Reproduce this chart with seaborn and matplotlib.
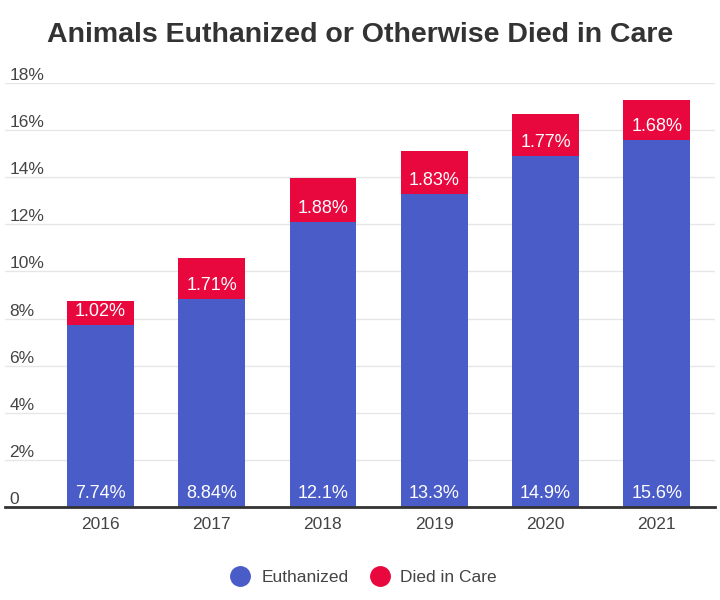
import matplotlib
matplotlib.use("Agg")
import matplotlib.pyplot as plt
from matplotlib.lines import Line2D
import numpy as np
import pandas as pd
import seaborn as sns

# dados
anos = ["2016", "2017", "2018", "2019", "2020", "2021"]
eutanasia = [7.74, 8.84, 12.1, 13.3, 14.9, 15.6]
morreu = [1.02, 1.71, 1.88, 1.83, 1.77, 1.68]
rotulos_eut = ["7.74%", "8.84%", "12.1%", "13.3%", "14.9%", "15.6%"]
rotulos_morreu = ["1.02%", "1.71%", "1.88%", "1.83%", "1.77%", "1.68%"]
y_ticks = [0, 2, 4, 6, 8, 10, 12, 14, 16, 18]

azul = "#4a5cc8"
vermelho = "#e8083e"
cinza = "#444444"

df = pd.DataFrame({"ano": anos, "eut": eutanasia, "morreu": morreu})
df["total"] = df["eut"] + df["morreu"]

sns.set_style("white")
plt.rcParams["font.family"] = ["Liberation Sans", "DejaVu Sans"]

fig = plt.figure(figsize=(7.2, 6), dpi=100)
ax = fig.add_axes([5 / 720, 1 - 507 / 600, 710 / 720, (507 - 83) / 600])

# barra total (vermelha) e por cima a parte azul
sns.barplot(data=df, x="ano", y="total", color=vermelho, width=0.6,
            saturation=1, linewidth=0, ax=ax, zorder=3)
sns.barplot(data=df, x="ano", y="eut", color=azul, width=0.6,
            saturation=1, linewidth=0, ax=ax, zorder=4)

for i, row in df.iterrows():
    ax.annotate(rotulos_eut[i], xy=(i, 0), xytext=(0, 3.5), textcoords="offset points",
                ha="center", va="bottom", color="white", fontsize=13, zorder=5)
    ax.annotate(rotulos_morreu[i], xy=(i, row["eut"]), xytext=(0, 3.5),
                textcoords="offset points", ha="center", va="bottom",
                color="white", fontsize=13, zorder=5)

ax.set_xlim(-95 / 111, 5 + 58 / 111)
ax.set_ylim(0, 18)
ax.set_yticks(y_ticks)
ax.set_yticklabels(["0" if t == 0 else f"{t}%" for t in y_ticks])
ax.yaxis.grid(True, color="#e6e6e6", linewidth=1, zorder=0)
ax.set_axisbelow(True)
for lbl in ax.get_yticklabels():
    lbl.set_horizontalalignment("left")
    lbl.set_verticalalignment("bottom")
ax.tick_params(axis="y", length=0, pad=-3, labelsize=12.5, labelcolor=cinza)
ax.tick_params(axis="x", length=0, pad=7, labelsize=12.5, labelcolor=cinza)
ax.set_xlabel("")
ax.set_ylabel("")

for s in ["top", "right", "left"]:
    ax.spines[s].set_visible(False)
ax.spines["bottom"].set_color("#333333")
ax.spines["bottom"].set_linewidth(2)
ax.spines["bottom"].set_zorder(6)

fig.text(0.5, 1 - 35 / 600, "Animals Euthanized or Otherwise Died in Care",
         ha="center", va="center", fontsize=20.5, fontweight="bold", color="#333333")

handles = [
    Line2D([], [], marker="o", linestyle="", markersize=14, color=azul, label="Euthanized"),
    Line2D([], [], marker="o", linestyle="", markersize=14, color=vermelho, label="Died in Care"),
]
fig.legend(handles=handles, loc="center", bbox_to_anchor=(0.5, 1 - 577 / 600), ncol=2,
           frameon=False, fontsize=12.5, handletextpad=0.2, columnspacing=0.8,
           labelcolor=cinza)

plt.savefig("out.png", dpi=100)
